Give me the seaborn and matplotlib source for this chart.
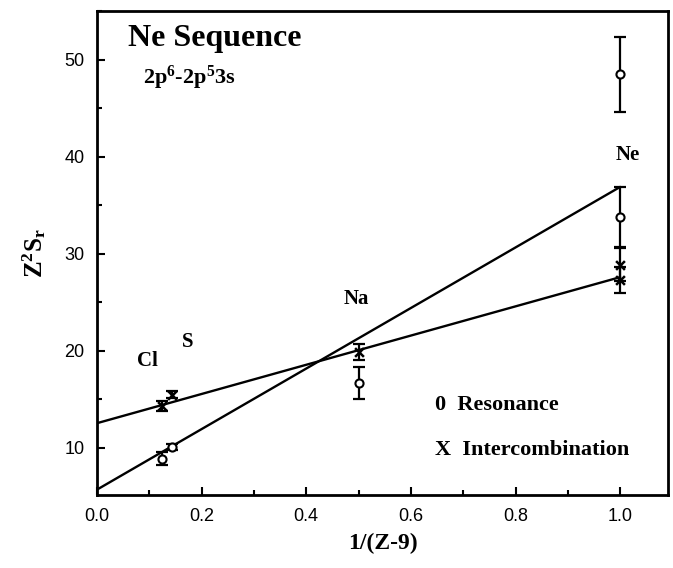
import numpy as np
import pandas as pd
import matplotlib
matplotlib.use("Agg")
import matplotlib.pyplot as plt
from matplotlib.ticker import MultipleLocator
import seaborn as sns

# x = 1/(Z-9) for Cl, S, Na, Ne (Ne has two resonance points)
res_x = [0.125, 0.143, 0.5, 1.0, 1.0]
res_y = [8.9, 10.1, 16.7, 33.8, 48.5]
res_err = [0.7, 0.3, 1.65, 3.1, 3.85]

ic_x = [0.125, 0.143, 0.5, 1.0, 1.0]
ic_y = [14.3, 15.5, 19.9, 28.9, 27.3]
ic_err = [0.5, 0.4, 0.8, 1.7, 1.3]

# straight-line fits
fit_x = [0.0, 1.0]
res_fit = [5.7, 36.9]
ic_fit = [12.55, 27.6]

ion_names = ["Cl", "S", "Na", "Ne"]
ion_x = [0.096, 0.174, 0.495, 1.015]
ion_y = [19.0, 20.9, 25.4, 40.2]

res_df = pd.DataFrame({"x": res_x, "y": res_y, "err": res_err})
ic_df = pd.DataFrame({"x": ic_x, "y": ic_y, "err": ic_err})

sns.set_style("ticks")
plt.rcParams["font.family"] = ["Liberation Sans", "DejaVu Sans"]
plt.rcParams["mathtext.fontset"] = "custom"
plt.rcParams["mathtext.rm"] = "Liberation Serif:bold"
plt.rcParams["mathtext.it"] = "Liberation Serif:bold"
for key in ["text.color", "axes.labelcolor", "xtick.color", "ytick.color", "axes.edgecolor"]:
    plt.rcParams[key] = "black"

serif = {"family": "Liberation Serif", "weight": "bold"}

fig = plt.figure(figsize=(6.73, 5.68), dpi=100)
ax = fig.add_axes([0.144, 0.1285, 0.849, 0.8525])

# fit lines
sns.lineplot(x=fit_x, y=res_fit, color="black", lw=1.7, ax=ax)
sns.lineplot(x=fit_x, y=ic_fit, color="black", lw=1.7, ax=ax)

# error bars
ax.errorbar(res_df["x"], res_df["y"], yerr=res_df["err"], fmt="none",
            ecolor="black", elinewidth=1.6, capsize=4, capthick=1.6)
ax.errorbar(ic_df["x"], ic_df["y"], yerr=ic_df["err"], fmt="none",
            ecolor="black", elinewidth=1.6, capsize=4, capthick=1.6)

# markers
sns.scatterplot(data=res_df, x="x", y="y", marker="o", s=34,
                facecolor="white", edgecolor="black", linewidth=1.5, ax=ax, zorder=5)
sns.scatterplot(data=ic_df, x="x", y="y", marker="x", s=40,
                color="black", linewidth=1.8, ax=ax, zorder=5)

# labels of ions
for name, xx, yy in zip(ion_names, ion_x, ion_y):
    ax.text(xx, yy, name, ha="center", va="center", fontsize=15, **serif)

ax.text(0.059, 52.2, "Ne Sequence", ha="left", va="center", fontsize=23, **serif)
ax.text(0.088, 48.1, r"2p$^6$-2p$^5$3s", ha="left", va="center", fontsize=16, **serif)
ax.text(0.646, 14.4, "0  Resonance", ha="left", va="center", fontsize=16, **serif)
ax.text(0.646, 9.8, "X  Intercombination", ha="left", va="center", fontsize=16, **serif)

ax.set_xlim(0, 1.092)
ax.set_ylim(5.15, 55.05)
ax.xaxis.set_major_locator(MultipleLocator(0.2))
ax.xaxis.set_minor_locator(MultipleLocator(0.1))
ax.yaxis.set_major_locator(MultipleLocator(10))
ax.yaxis.set_minor_locator(MultipleLocator(5))
ax.xaxis.set_major_formatter(matplotlib.ticker.FormatStrFormatter("%.1f"))

ax.tick_params(which="both", direction="in", width=1.5, labelsize=13, pad=9)
ax.tick_params(which="major", length=6)
ax.tick_params(which="minor", length=3.5)
for sp in ax.spines.values():
    sp.set_visible(True)
    sp.set_linewidth(2)

ax.set_xlabel("1/(Z-9)", fontsize=17, labelpad=6, **serif)
ax.set_ylabel(r"$\mathrm{Z^2S_r}$", fontsize=18, labelpad=12)

fig.savefig("out.png", dpi=100)
